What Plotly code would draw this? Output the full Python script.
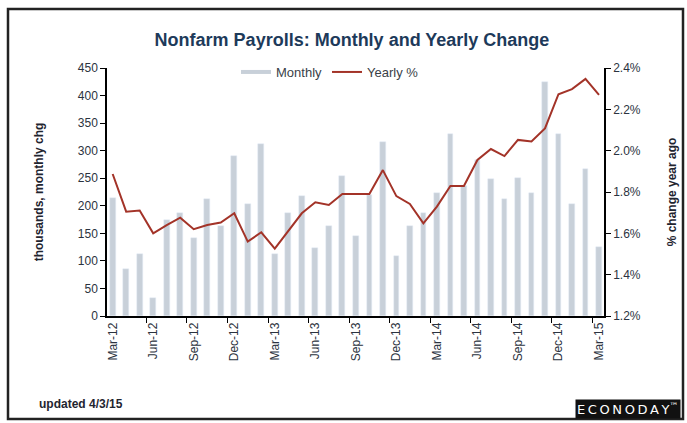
import plotly.graph_objects as go

months = ["Mar-12", "Apr-12", "May-12", "Jun-12", "Jul-12", "Aug-12", "Sep-12", "Oct-12",
          "Nov-12", "Dec-12", "Jan-13", "Feb-13", "Mar-13", "Apr-13", "May-13", "Jun-13",
          "Jul-13", "Aug-13", "Sep-13", "Oct-13", "Nov-13", "Dec-13", "Jan-14", "Feb-14",
          "Mar-14", "Apr-14", "May-14", "Jun-14", "Jul-14", "Aug-14", "Sep-14", "Oct-14",
          "Nov-14", "Dec-14", "Jan-15", "Feb-15", "Mar-15"]

# thousands, monthly change
monthly = [215, 85, 112, 33, 175, 186, 142, 213, 164, 290, 203, 312, 112, 186, 217, 124,
           163, 254, 145, 220, 316, 108, 164, 186, 224, 330, 236, 283, 249, 213, 251, 223,
           425, 330, 203, 267, 126]

# % change year ago
yearly = [1.887, 1.705, 1.71, 1.60, 1.64, 1.676, 1.62, 1.64, 1.652, 1.697, 1.56, 1.605,
          1.526, 1.613, 1.697, 1.75, 1.737, 1.79, 1.79, 1.79, 1.906, 1.78, 1.742, 1.648,
          1.729, 1.829, 1.829, 1.955, 2.008, 1.974, 2.052, 2.044, 2.108, 2.273, 2.298,
          2.347, 2.27]

left_ticks = [0, 50, 100, 150, 200, 250, 300, 350, 400, 450]
right_ticks = [1.2, 1.4, 1.6, 1.8, 2.0, 2.2, 2.4]

txt = "#2b3340"
fnt = "Liberation Sans, Arial, sans-serif"
bar_col = "#c8d0d9"

W, H = 687, 423
pl, pr, pt, pb = 107, 604, 68, 316   # plot area in pixels
pw, ph = pr - pl, pb - pt


def px(x):
    return (x - pl) / pw


def py(y):
    return (pb - y) / ph


fig = go.Figure()
fig.add_trace(go.Bar(x=months, y=monthly, name="Monthly", marker_color=bar_col,
                     width=0.42, yaxis="y", showlegend=False))
# legend entry drawn as a wide flat swatch, like the original
fig.add_trace(go.Scatter(x=[None], y=[None], name="Monthly", mode="lines",
                         line=dict(color=bar_col, width=4)))
fig.add_trace(go.Scatter(x=months, y=yearly, name="Yearly %", mode="lines",
                         line=dict(color="#a33328", width=2), yaxis="y2"))

fig.update_layout(
    width=W, height=H,
    margin=dict(l=pl, r=W - pr, t=pt, b=H - pb, autoexpand=False),
    paper_bgcolor="white", plot_bgcolor="white",
    font=dict(family=fnt, color=txt, size=12),
    showlegend=True,
    bargap=0,
    title=dict(text="<b>Nonfarm Payrolls: Monthly and Yearly Change</b>",
               x=px(352), xanchor="center", xref="paper", y=1 - 40 / H,
               yanchor="middle",
               font=dict(family="Liberation Sans Narrow, Arial Narrow, Liberation Sans, Arial",
                         size=18, color="#1d3a5a")),
    legend=dict(orientation="h", x=px(236), xanchor="left", y=py(72), yanchor="middle",
                bgcolor="rgba(0,0,0,0)", font=dict(size=13, color="#3a3f48"),
                itemwidth=30, tracegroupgap=0),
    xaxis=dict(type="category", range=[-0.42, 36.37], tickson="boundaries", dtick=3,
               tickangle=-90, ticks="outside", ticklen=5, tickcolor="black",
               showline=True, linecolor="black", linewidth=1.5, showgrid=False,
               tickfont=dict(size=12, color=txt), automargin=False),
    yaxis=dict(range=[0, 450], tickvals=left_ticks, ticks="outside", ticklen=5,
               tickcolor="black", showline=True, linecolor="black", linewidth=1.5,
               showgrid=False, zeroline=False, tickfont=dict(size=12, color=txt),
               automargin=False,
               title=dict(text="<b>thousands, monthly chg</b>", standoff=32,
                          font=dict(size=12, color="#1f2530"))),
    yaxis2=dict(range=[1.2, 2.4], tickvals=right_ticks, ticktext=[f"{v:.1f}%" for v in right_ticks],
                overlaying="y", side="right", ticks="outside", ticklen=5, tickcolor="black",
                showline=True, linecolor="black", linewidth=1.5, showgrid=False,
                zeroline=False, tickfont=dict(size=12, color=txt), automargin=False,
                title=dict(text="<b>% change year ago</b>", standoff=28,
                           font=dict(size=12, color="#1f2530"))),
)

# outer frame
fig.add_shape(type="rect", xref="paper", yref="paper",
              x0=px(8), x1=px(683), y0=py(419), y1=py(9),
              line=dict(color="#222222", width=2.5), layer="above")

fig.add_annotation(text="<b>updated 4/3/15</b>", xref="paper", yref="paper",
                   x=px(37), y=py(404), xanchor="left", yanchor="middle",
                   showarrow=False, font=dict(size=12, color="#1f2530"))
fig.add_annotation(text="E\u2009C\u2009O\u2009N\u2009O\u2009D\u2009A\u2009Y<sup>\u2122</sup>",
                   xref="paper", yref="paper",
                   x=px(681), y=py(409), xanchor="right", yanchor="middle",
                   showarrow=False, bgcolor="#111111", borderpad=1,
                   font=dict(size=13, color="white", family="DejaVu Sans"))

# drop the page's default 8px body margin so the figure sits at the window corner
fig.write_html("out.html", config={"displayModeBar": False},
               post_script="document.body.style.margin='0';document.body.style.overflow='hidden';")
